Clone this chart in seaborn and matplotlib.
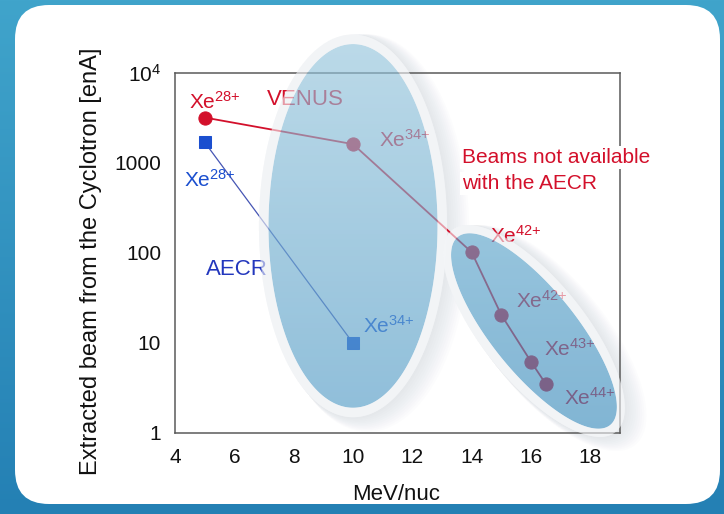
import numpy as np
import pandas as pd
import matplotlib
matplotlib.use('Agg')
import matplotlib.pyplot as plt
import seaborn as sns
from matplotlib.patches import Polygon, PathPatch, FancyBboxPatch
from matplotlib.path import Path
from matplotlib.ticker import MultipleLocator, LogLocator, NullFormatter

# beam intensities (enA)
venus_energy = [5, 10, 14, 15, 16, 16.5]
venus_beam = [3200, 1620, 102, 20.5, 6.2, 3.5]
venus_charge = ['28', '34', '42', '42', '43', '44']
aecr_energy = [5, 10]
aecr_beam = [1700, 10]
aecr_charge = ['28', '34']

x_ticks = [4, 6, 8, 10, 12, 14, 16, 18]
y_ticks = [1, 10, 100, 1000, 10000]
y_ticklabels = ['1', '10', '100', '1000', r'10$^4$']

RED = '#d3102b'
BLUE_TXT = '#2337bd'
BLUE_MK = '#1b4fcf'
BLUE_LN = '#4656b4'

sns.set_theme(style='white')
plt.rcParams['font.family'] = ['Liberation Sans', 'DejaVu Sans']
plt.rcParams['mathtext.fontset'] = 'custom'
plt.rcParams['mathtext.rm'] = 'Liberation Sans'
plt.rcParams['mathtext.it'] = 'Liberation Sans:italic'
plt.rcParams['mathtext.bf'] = 'Liberation Sans:bold'

W, H = 724, 514
fig = plt.figure(figsize=(W / 100, H / 100), dpi=100)

# plot box in pixels
AL, AR, AT, AB = 175, 620, 73, 433
XLIM = (4, 19)
DEC = (0, 4)
ppx = (AR - AL) / (XLIM[1] - XLIM[0])
ppd = (AB - AT) / (DEC[1] - DEC[0])
S = ppd / ppx
# full-figure overlay coords: x and log10(y)
fx = (XLIM[0] - AL / ppx, XLIM[0] + (W - AL) / ppx)
fv = (DEC[0] - (H - AB) / ppd, DEC[1] + AT / ppd)


def ellipse(cx, cy, a, b, ang, grow=0.0, dx=0.0, dv=0.0, n=300):
    t = np.linspace(0, 2 * np.pi, n)
    th = np.deg2rad(ang)
    a, b = a + grow, b + grow
    u0 = np.log10(cy) * S
    x = cx + a * np.cos(t) * np.cos(th) - b * np.sin(t) * np.sin(th)
    u = u0 + a * np.cos(t) * np.sin(th) + b * np.sin(t) * np.cos(th)
    return np.column_stack([x + dx, u / S + dv])


def ring(outer, inner):
    verts = np.concatenate([outer, inner[::-1]])
    codes = ([Path.MOVETO] + [Path.LINETO] * (len(outer) - 1)
             + [Path.MOVETO] + [Path.LINETO] * (len(inner) - 1))
    return Path(verts, codes)


def gradient_fill(axis, pts, c_top, c_bot, alpha=1.0):
    x0, v0 = pts.min(0)
    x1, v1 = pts.max(0)
    t = np.linspace(0, 1, 256)[:, None, None]
    rgb = (np.array(c_top) + (np.array(c_bot) - np.array(c_top)) * t) / 255
    im = axis.imshow(rgb, extent=(x0, x1, v0, v1), aspect='auto',
                     interpolation='bilinear', alpha=alpha)
    im.set_clip_path(Polygon(pts, closed=True, transform=axis.transData))


# ellipse shapes: (center x, center y, semi-axis a, semi-axis b, angle, halo)
big = (10, 200, 6.13, 2.85, 90, 0.32)
small = (16.1, 13.6, 4.08, 1.42, -51, 0.3)
big_cols = ((155, 203, 225), (86, 160, 202))
small_cols = ((96, 169, 207), (62, 144, 192))

# background: blue frame and white rounded panel
bg = fig.add_axes([0, 0, 1, 1], zorder=0)
bg.axis('off')
g = np.linspace(0, 1, 256)[:, None, None]
frame = (np.array([64, 164, 203]) + (np.array([36, 128, 180]) - np.array([64, 164, 203])) * g) / 255
bg.imshow(frame, extent=(0, W, 0, H), aspect='auto')
bg.add_patch(FancyBboxPatch((15, 10), 705, 499, boxstyle='round,pad=0,rounding_size=34',
                            fc='white', ec='none'))
bg.set_xlim(0, W)
bg.set_ylim(0, H)

# under layer: shadows, halos, opaque ellipses
under = fig.add_axes([0, 0, 1, 1], zorder=1)
under.axis('off')
for shape, cols in [(big, big_cols), (small, small_cols)]:
    cx, cy, a, b, ang, halo = shape
    for k in range(10, 0, -1):
        sh = ellipse(cx, cy, a, b, ang, grow=halo + 0.025 * k, dx=0.05 * k, dv=-0.008 * k)
        under.add_patch(Polygon(sh, closed=True, fc='#98a3b0', ec='none', alpha=0.022))
    under.add_patch(Polygon(ellipse(cx, cy, a, b, ang, grow=halo), closed=True,
                            fc='#f0f2f5', ec='none'))
    gradient_fill(under, ellipse(cx, cy, a, b, ang), cols[0], cols[1])
under.set_xlim(*fx)
under.set_ylim(*fv)

# main axes with the data
ax = fig.add_axes([AL / W, (H - AB) / H, (AR - AL) / W, (AB - AT) / H], zorder=2)
ax.patch.set_alpha(0)

venus = pd.DataFrame({'energy': venus_energy, 'beam': venus_beam})
aecr = pd.DataFrame({'energy': aecr_energy, 'beam': aecr_beam})

sns.lineplot(data=aecr, x='energy', y='beam', ax=ax, sort=False, color=BLUE_LN,
             linewidth=0.9, marker='s', markersize=9, markerfacecolor=BLUE_MK,
             markeredgecolor=BLUE_MK)
sns.lineplot(data=venus, x='energy', y='beam', ax=ax, sort=False, color=RED,
             linewidth=1.3, marker='o', markersize=9.5, markerfacecolor=RED,
             markeredgecolor=RED)

ax.set_yscale('log')
ax.set_xlim(*XLIM)
ax.set_ylim(10 ** DEC[0], 10 ** DEC[1])
ax.set_xticks(x_ticks)
ax.set_yticks(y_ticks)
ax.set_yticklabels(y_ticklabels)
ax.xaxis.set_minor_locator(MultipleLocator(0.5))
ax.yaxis.set_minor_locator(LogLocator(base=10, subs=np.arange(2, 10)))
ax.yaxis.set_minor_formatter(NullFormatter())
ax.set_xlabel('')
ax.set_ylabel('')
ax.tick_params(which='both', direction='in', color='#555555', width=0.9,
               labelsize=15, labelcolor='#111111', top=False, right=False)
ax.tick_params(which='major', length=7)
ax.tick_params(which='minor', length=3.5)
ax.tick_params(axis='y', pad=10)
ax.tick_params(axis='x', pad=11)
for sp in ax.spines.values():
    sp.set_color('#5a5a5a')
    sp.set_linewidth(1.1)

# point labels (offsets in points from each marker)
venus_off = [(-11, 6.5), (18.5, -2.2), (13, 6.5), (10.8, 5), (9.4, 4.3), (13, -15)]
aecr_off = [(-15, -32.4), (7.2, 7.2)]
for xv, yv, c, off in zip(venus_energy, venus_beam, venus_charge, venus_off):
    ax.annotate('Xe$^{%s{+}}$' % c, xy=(xv, yv), xytext=off, textcoords='offset points',
                ha='left', va='baseline', fontsize=15, color=RED)
for xv, yv, c, off in zip(aecr_energy, aecr_beam, aecr_charge, aecr_off):
    ax.annotate('Xe$^{%s{+}}$' % c, xy=(xv, yv), xytext=off, textcoords='offset points',
                ha='left', va='baseline', fontsize=15, color=BLUE_MK)

ax.text(7.1, 4400, 'VENUS', fontsize=16, color=RED, ha='left', va='baseline')
ax.text(5.04, 57, 'AECR', fontsize=16, color=BLUE_TXT, ha='left', va='baseline')
ax.text(13.67, 1000, 'Beams not available', fontsize=15, color=RED, ha='left',
        va='baseline', zorder=5, bbox=dict(fc='white', ec='none', pad=1.5))
ax.text(13.67, 514, 'with the AECR', fontsize=15, color=RED, ha='left',
        va='baseline', zorder=5, bbox=dict(fc='white', ec='none', pad=1.5))

fig.text(97 / W, 1 - 261 / H, 'Extracted beam from the Cyclotron [enA]', rotation=90,
         rotation_mode='anchor', ha='center', va='baseline', fontsize=17, color='#111111')
fig.text(396 / W, 14 / H, 'MeV/nuc', ha='center', va='baseline', fontsize=16, color='#111111')

# over layer: translucent halos and ellipses that tint whatever lies beneath
over = fig.add_axes([0, 0, 1, 1], zorder=3)
over.axis('off')
for shape, cols in [(big, big_cols), (small, small_cols)]:
    cx, cy, a, b, ang, halo = shape
    inner = ellipse(cx, cy, a, b, ang)
    outer = ellipse(cx, cy, a, b, ang, grow=halo)
    over.add_patch(PathPatch(ring(outer, inner), fc='#f4f6f8', ec='none', alpha=0.6))
    gradient_fill(over, inner, cols[0], cols[1], alpha=0.62)
over.set_xlim(*fx)
over.set_ylim(*fv)

fig.savefig('out.png', dpi=100)
